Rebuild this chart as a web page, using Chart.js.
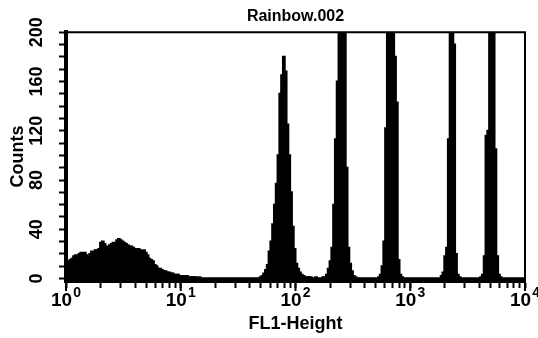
<!DOCTYPE html>
<html>
<head>
<meta charset="utf-8">
<script src="https://cdn.jsdelivr.net/npm/chart.js@4.4.0/dist/chart.umd.min.js"></script>
<style>
  html, body { margin: 0; padding: 0; background: #fff; }
</style>
</head>
<body>
<canvas id="histChart" width="538" height="338"></canvas>
<script>
const TITLE = "Rainbow.002";
const X_TITLE = "FL1-Height";
const Y_TITLE = "Counts";

// 256 channels over four log decades
const CHANNELS = 256;
const xDecades = [0, 1, 2, 3, 4];           // labels 10^0 ... 10^4
const yTicks = [0, 40, 80, 120, 160, 200];   // labelled counts
const yMinorStep = 10;

// counts per channel, 16 channels per row
const counts = [
  12, 14, 15, 16, 18, 19, 18, 20, 21, 20, 21, 19, 18, 20, 22, 21,
  23, 23, 24, 29, 30, 28, 26, 25, 27, 28, 29, 28, 31, 32, 31, 30,
  29, 28, 27, 26, 26, 25, 24, 23, 24, 23, 22, 23, 21, 19, 16, 15,
  14, 11, 10, 8, 8, 7, 6, 6, 5, 5, 4, 4, 3, 3, 3, 2,
  2, 2, 1, 2, 1, 1, 1, 1, 1, 0, 1, 0, 0, 0, 0, 0,
  0, 0, 0, 0, 0, 0, 0, 0, 0, 0, 0, 0, 0, 0, 0, 0,
  0, 0, 0, 0, 0, 0, 0, 0, 0, 0, 0, 0, 1, 2, 4, 7,
  11, 22, 30, 44, 60, 77, 100, 150, 165, 180, 168, 125, 100, 70, 42, 24,
  12, 8, 5, 3, 2, 1, 1, 1, 1, 0, 0, 1, 0, 0, 0, 1,
  1, 3, 8, 14, 25, 60, 113, 160, 230, 300, 330, 260, 90, 25, 12, 6,
  2, 1, 0, 0, 0, 0, 0, 0, 0, 0, 0, 0, 0, 0, 1, 3,
  10, 30, 122, 240, 330, 340, 300, 180, 143, 15, 3, 1, 0, 0, 0, 0,
  0, 0, 0, 0, 0, 0, 0, 0, 0, 0, 0, 0, 0, 0, 0, 0,
  0, 2, 5, 18, 25, 113, 280, 340, 190, 20, 3, 1, 0, 0, 0, 0,
  0, 0, 0, 0, 0, 0, 0, 1, 3, 18, 116, 120, 300, 340, 320, 105,
  18, 3, 1, 0, 0, 0, 0, 0, 0, 0, 0, 0, 0, 0, 0, 0
];

// each channel is a bar centred in its slot on the channel axis
const histBars = counts.map((y, c) => ({ x: c + 0.5, y: y }));

const INK = "#000";
const FONT = "'Liberation Sans', Arial, sans-serif";

// top and right edges of the plot box
const framePlugin = {
  id: "frame",
  afterDraw(chart) {
    const { ctx, chartArea: a } = chart;
    ctx.save();
    ctx.strokeStyle = INK;
    ctx.lineWidth = 2;
    ctx.beginPath();
    ctx.moveTo(a.left, a.top);
    ctx.lineTo(a.right, a.top);
    ctx.lineTo(a.right, a.bottom);
    ctx.stroke();
    ctx.restore();
  }
};

// decade labels written as 10 with a raised exponent
const decadeLabels = {
  id: "decadeLabels",
  afterDraw(chart) {
    const { ctx } = chart;
    const scale = chart.scales.x;
    const y0 = scale.top;
    ctx.save();
    ctx.fillStyle = INK;
    ctx.strokeStyle = INK;
    ctx.textBaseline = "alphabetic";
    xDecades.forEach(e => {
      const px = scale.getPixelForValue(Math.pow(10, e));
      // longer tick at each decade
      ctx.lineWidth = 2;
      ctx.beginPath();
      ctx.moveTo(px, y0);
      ctx.lineTo(px, y0 + 10);
      ctx.stroke();

      ctx.font = "bold 19px " + FONT;
      const wBase = ctx.measureText("10").width;
      ctx.font = "bold 14px " + FONT;
      const wExp = ctx.measureText(String(e)).width;
      const left = px - (wBase + wExp + 1) / 2;
      ctx.font = "bold 19px " + FONT;
      ctx.textAlign = "left";
      ctx.fillText("10", left, y0 + 25);
      ctx.font = "bold 14px " + FONT;
      ctx.fillText(String(e), left + wBase + 1, y0 + 16);
    });
    ctx.restore();
  }
};

new Chart(document.getElementById("histChart"), {
  type: "bar",
  data: {
    datasets: [{
      data: histBars,
      xAxisID: "xc",
      yAxisID: "y",
      backgroundColor: INK,
      borderWidth: 0,
      barPercentage: 1,
      categoryPercentage: 1,
      inflateAmount: 1
    }]
  },
  options: {
    responsive: false,
    animation: false,
    layout: { padding: { left: 0, right: 13, top: 0, bottom: 0 } },
    plugins: {
      legend: { display: false },
      tooltip: { enabled: false },
      title: {
        display: true,
        text: TITLE,
        fullSize: false,
        color: INK,
        font: { family: FONT, size: 16, weight: "bold" },
        padding: { top: 7, bottom: 6 }
      }
    },
    scales: {
      xc: {
        type: "linear",
        min: 0,
        max: CHANNELS,
        offset: false,
        grid: { offset: false },
        display: false
      },
      x: {
        type: "logarithmic",
        position: "bottom",
        min: 1,
        max: 10000,
        offset: false,
        afterBuildTicks(scale) {
          const t = [];
          for (let d = 0; d < xDecades.length - 1; d++) {
            for (let m = 1; m < 10; m++) t.push({ value: m * Math.pow(10, xDecades[d]), major: m === 1 });
          }
          t.push({ value: Math.pow(10, xDecades[xDecades.length - 1]), major: true });
          scale.ticks = t;
        },
        afterFit(scale) { scale.height = 57; },
        ticks: { display: false, autoSkip: false },
        grid: {
          offset: false,
          drawOnChartArea: false,
          drawTicks: true,
          tickLength: 7,
          tickWidth: 2,
          tickColor: INK,
          color: INK
        },
        border: { display: true, color: INK, width: 4 },
        title: {
          display: true,
          text: X_TITLE,
          color: INK,
          font: { family: FONT, size: 18, weight: "bold" },
          padding: { top: 0, bottom: 3 }
        }
      },
      y: {
        type: "linear",
        min: -2,
        max: 200,
        afterBuildTicks(scale) {
          const t = [];
          for (let v = yTicks[0]; v <= yTicks[yTicks.length - 1]; v += yMinorStep) t.push({ value: v });
          scale.ticks = t;
        },
        afterFit(scale) { scale.width = 66; },
        ticks: {
          color: INK,
          autoSkip: false,
          font: { family: FONT, size: 18, weight: "bold" },
          minRotation: 90,
          maxRotation: 90,
          crossAlign: "center",
          padding: 7,
          callback: v => (yTicks.includes(v) ? String(v) : "")
        },
        grid: {
          drawOnChartArea: false,
          tickLength: 7,
          tickWidth: 2,
          tickColor: INK,
          color: INK
        },
        border: { display: true, color: INK, width: 4 },
        title: {
          display: true,
          text: Y_TITLE,
          color: INK,
          font: { family: FONT, size: 18, weight: "bold" },
          padding: { top: 7, bottom: 0 }
        }
      }
    }
  },
  plugins: [framePlugin, decadeLabels]
});
</script>
</body>
</html>
